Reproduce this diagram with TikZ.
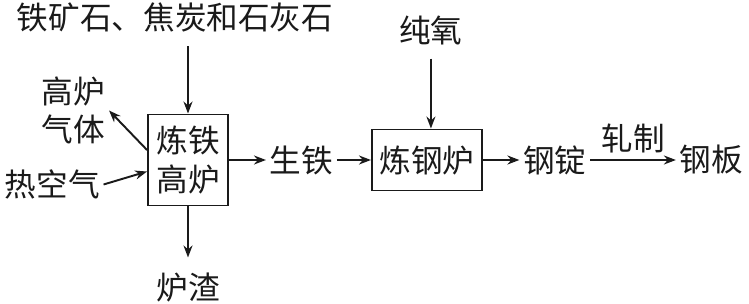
\documentclass[tikz,border=0pt]{standalone}
\usepackage{fontspec}
\newfontfamily\cjk{Noto Sans CJK SC}
\usepackage{xcolor}
\definecolor{cInk}{HTML}{1A1A1A}
\usetikzlibrary{positioning,arrows.meta}
\tikzset{
  node-box/.style={draw=cInk,line width=1.1pt,align=center,inner sep=1pt,
    font=\cjk\fontsize{18}{22}\selectfont,text=cInk},
  node-text/.style={inner sep=2pt,align=center,
    font=\cjk\fontsize{18}{22}\selectfont,text=cInk},
  % 箭头：深灰实线，Stealth 头
  arrow/.style={-{Stealth[length=2.4mm,width=1.8mm]},line width=1.1pt,draw=cInk},
}

\begin{document}
\begin{tikzpicture}
  \useasboundingbox (0,0) rectangle (14.98,6.06);
  \node[node-box,minimum width=16mm,minimum height=18.2mm] (blast) at (3.76,2.86) {炼铁\\高炉};
  \node[node-text,right=7.4mm of blast] (pig) {生铁};
  \node[node-box,right=6.8mm of pig,minimum width=22mm,minimum height=12.2mm] (steel) {炼钢炉};
  \node[node-text,right=7.3mm of steel] (ingot) {钢锭};
  \node[node-text,right=17.1mm of ingot] (plate) {钢板};
  \node[node-text,above=15.5mm of blast.north,xshift=-2.6mm] (feed) {铁矿石、焦炭和石灰石};
  \node[node-text,above=16mm of steel.north,xshift=0.8mm] (oxygen) {纯氧};
  \node[node-text,left=7.6mm of blast.west,yshift=9.9mm] (gas) {高炉\\气体};
  \node[node-text,left=8.7mm of blast.west,yshift=-4.9mm] (air) {热空气};
  \node[node-text,below=12.5mm of blast.south] (slag) {炉渣};

  \draw[arrow,shorten <=2mm] (feed.south -| blast.north) -- (blast.north);
  \draw[arrow,shorten <=2mm] (oxygen.south) -- (oxygen.south |- steel.north);
  \draw[arrow] ([yshift=2mm]blast.west) -- (gas.east);
  \draw[arrow] (air.east) -- ([yshift=-2.3mm]blast.west);
  \draw[arrow,shorten >=2.3mm] (blast.south) -- (slag);
  \draw[arrow] (blast) -- (pig);
  \draw[arrow] (pig) -- (steel);
  \draw[arrow] (steel) -- (ingot);
  \draw[arrow] (ingot) -- node[node-text,above=0.5mm] (roll) {轧制} (plate);
\end{tikzpicture}
\end{document}
